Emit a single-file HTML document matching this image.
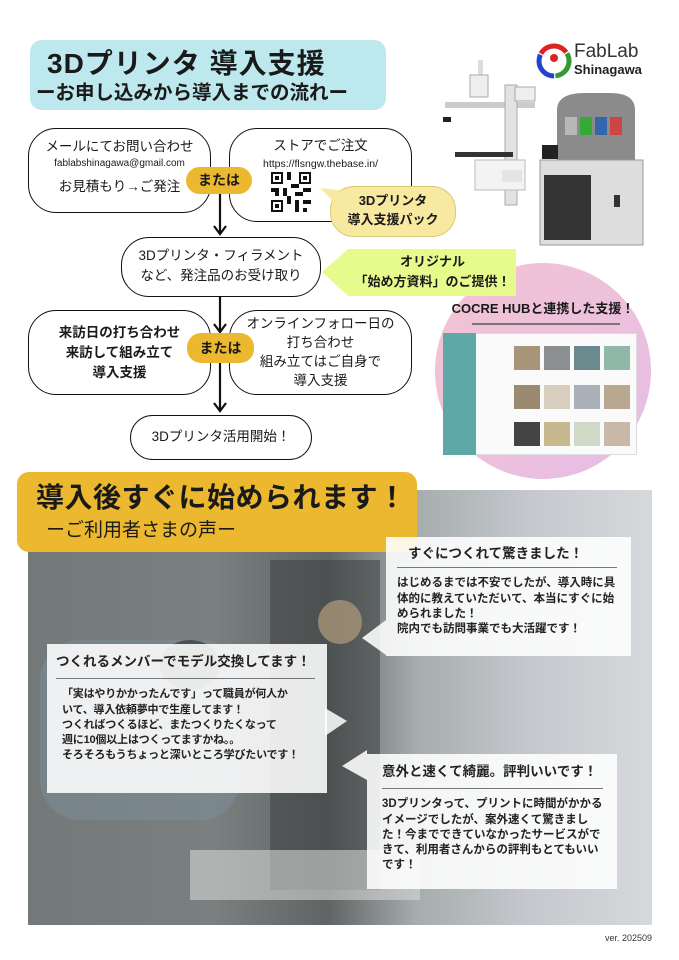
<!DOCTYPE html>
<html><head><meta charset="utf-8"><style>
*{margin:0;padding:0;box-sizing:border-box}
body{width:679px;height:960px;background:#fff;position:relative;overflow:hidden;font-family:"Liberation Sans","Noto Sans CJK JP",sans-serif;color:#1a1a1a}
.a{position:absolute}
.box{position:absolute;border:1.6px solid #111;border-radius:28px;background:#fff;text-align:center;font-size:13.5px;line-height:20px}
.pill{position:absolute;background:#ecb830;border-radius:14px;text-align:center;font-weight:bold;font-size:14px}
.call{position:absolute;background:rgba(255,255,255,0.88);font-size:11.5px;line-height:15.3px;font-weight:bold;color:#222}
.call h4{font-size:13.5px;font-weight:bold;border-bottom:1.5px solid #777;padding-bottom:6px;margin-bottom:8px}
</style></head><body>

<div class="a" style="left:30px;top:40px;width:356px;height:70px;background:#bde9ee;border-radius:12px"></div>
<div class="a" style="left:47px;top:47px;font-size:28px;font-weight:bold;letter-spacing:1px;line-height:34px">3Dプリンタ 導入支援</div>
<div class="a" style="left:36px;top:80px;font-size:19.5px;font-weight:bold;line-height:26px">ーお申し込みから導入までの流れー</div>

<svg class="a" style="left:0;top:0" width="679" height="480">
<g stroke="#111" stroke-width="2.2" fill="none">
<line x1="220" y1="194" x2="220" y2="234"/><polyline points="214,226 220,234 226,226"/>
<line x1="220" y1="297" x2="220" y2="332"/><polyline points="214,324 220,332 226,324"/>
<line x1="220" y1="363" x2="220" y2="411"/><polyline points="214,403 220,411 226,403"/>
</g>
<defs><linearGradient id="pk" x1="0" y1="0" x2="1" y2="1"><stop offset="0" stop-color="#f4c4d2"/><stop offset="1" stop-color="#e6bde6"/></linearGradient></defs>
<circle cx="543" cy="371" r="108" fill="url(#pk)"/>
<polygon points="322,272 348,249 516,249 516,296 348,296" fill="#e6fb8c"/>
</svg>

<div class="box" style="left:28px;top:128px;width:183px;height:85px;padding-top:8px">メールにてお問い合わせ<div style="font-size:10px;line-height:14px">fablabshinagawa@gmail.com</div><div style="margin-top:6px">お見積もり→ご発注</div></div>
<div class="box" style="left:229px;top:128px;width:183px;height:94px;padding-top:7px">ストアでご注文<div style="font-size:10.5px;line-height:16px">https://flsngw.thebase.in/</div></div>
<svg class="a" style="left:271px;top:172px" width="40" height="40" viewBox="0 0 10 10">
<rect width="10" height="10" fill="#fff"/>
<g fill="#111"><rect x="0" y="0" width="3" height="3"/><rect x="7" y="0" width="3" height="3"/><rect x="0" y="7" width="3" height="3"/>
<rect x="4" y="0" width="1" height="2"/><rect x="5" y="3" width="2" height="1"/><rect x="3" y="4" width="1" height="2"/><rect x="6" y="5" width="2" height="1"/><rect x="8" y="4" width="2" height="1"/><rect x="4" y="6" width="1" height="2"/><rect x="6" y="7" width="1" height="3"/><rect x="8" y="7" width="2" height="1"/><rect x="8" y="9" width="1" height="1"/><rect x="0" y="4" width="2" height="1"/><rect x="1" y="5" width="1" height="1"/></g>
<g fill="#fff"><rect x=".5" y=".5" width="2" height="2"/><rect x="7.5" y=".5" width="2" height="2"/><rect x=".5" y="7.5" width="2" height="2"/></g>
<g fill="#111"><rect x="1" y="1" width="1" height="1"/><rect x="8" y="1" width="1" height="1"/><rect x="1" y="8" width="1" height="1"/></g>
</svg>
<div class="a" style="left:330px;top:186px;width:126px;height:51px;background:#f8e9a0;border:1px solid #d8c878;border-radius:24px"></div>
<svg class="a" style="left:318px;top:180px" width="30" height="30"><polygon points="2,8 22,10 18,24" fill="#f8e9a0"/></svg>
<div class="a" style="left:330px;top:191px;width:126px;text-align:center;font-size:13px;font-weight:bold;line-height:19px">3Dプリンタ<br>導入支援パック</div>

<div class="pill" style="left:186px;top:167px;width:66px;height:27px;line-height:27px">または</div>

<div class="box" style="left:121px;top:237px;width:200px;height:60px;padding-top:8px;border-radius:28px">3Dプリンタ・フィラメント<br>など、発注品のお受け取り</div>
<div class="a" style="left:350px;top:252px;width:165px;text-align:center;font-size:13px;font-weight:bold;line-height:20px">オリジナル<br>「始め方資料」のご提供！</div>

<div class="box" style="left:28px;top:310px;width:183px;height:85px;padding-top:12px;font-weight:bold">来訪日の打ち合わせ<br>来訪して組み立て<br>導入支援</div>
<div class="box" style="left:229px;top:310px;width:183px;height:85px;padding-top:3px;line-height:19px">オンラインフォロー日の<br>打ち合わせ<br>組み立てはご自身で<br>導入支援</div>
<div class="pill" style="left:187px;top:333px;width:67px;height:30px;line-height:30px">または</div>

<div class="box" style="left:130px;top:415px;width:182px;height:45px;line-height:42px;border-radius:24px">3Dプリンタ活用開始！</div>

<svg class="a" style="left:536px;top:43px" width="36" height="36" viewBox="0 0 36 36">
<circle cx="18" cy="18" r="15" fill="none" stroke="#d22" stroke-width="5" stroke-dasharray="30 64" transform="rotate(-150 18 18)"/>
<circle cx="18" cy="18" r="15" fill="none" stroke="#393" stroke-width="5" stroke-dasharray="30 64" transform="rotate(-30 18 18)"/>
<circle cx="18" cy="18" r="15" fill="none" stroke="#24c" stroke-width="5" stroke-dasharray="30 64" transform="rotate(90 18 18)"/>
<circle cx="18" cy="15" r="4" fill="#d22"/></svg>
<div class="a" style="left:574px;top:42px;font-size:19px;color:#333;line-height:20px">FabLab</div>
<div class="a" style="left:574px;top:62px;font-size:13px;font-weight:bold;color:#222;line-height:16px">Shinagawa</div>

<svg class="a" style="left:440px;top:55px" width="210" height="195">
<rect x="38" y="5" width="5" height="20" fill="#ddd"/>
<rect x="30" y="20" width="18" height="22" fill="#eee" stroke="#aaa"/>
<rect x="5" y="47" width="90" height="6" fill="#ccc"/>
<rect x="65" y="30" width="12" height="120" fill="#e2e2e2" stroke="#aaa"/>
<rect x="75" y="32" width="20" height="14" fill="#eee" stroke="#aaa"/>
<rect x="3" y="62" width="8" height="5" fill="#222"/>
<rect x="15" y="97" width="58" height="5" fill="#333"/>
<rect x="35" y="105" width="50" height="30" fill="#f3f3f3" stroke="#bbb"/>
<rect x="62" y="115" width="20" height="12" fill="#e5e5e5"/>
<path d="M117 55 Q117 38 145 38 L170 38 Q195 38 195 55 L195 108 L117 108Z" fill="#777" opacity=".85"/>
<rect x="125" y="62" width="12" height="18" fill="#b8b8b8"/><rect x="140" y="62" width="12" height="18" fill="#3a3"/><rect x="155" y="62" width="12" height="18" fill="#36a"/><rect x="170" y="62" width="12" height="18" fill="#c44"/>
<rect x="100" y="105" width="103" height="85" fill="#ddd" stroke="#999"/>
<rect x="104" y="120" width="47" height="65" fill="#333"/>
<rect x="102" y="90" width="16" height="14" fill="#222"/>
<rect x="174" y="140" width="6" height="12" fill="#333"/>
</svg>

<div class="a" style="left:440px;top:298px;width:206px;text-align:center;font-size:13px;font-weight:bold">COCRE HUBと連携した支援！</div>
<div class="a" style="left:472px;top:323px;width:148px;height:1.5px;background:#777"></div>
<div class="a" style="left:443px;top:333px;width:194px;height:122px;background:#fafafa;border:1px solid #ddd"></div>
<div class="a" style="left:443px;top:333px;width:33px;height:122px;background:#5fa8a8"></div>
<svg class="a" style="left:514px;top:340px" width="122" height="115">
<g fill="#a89478"><rect x="0" y="6" width="26" height="24"/><rect x="30" y="6" width="26" height="24" fill="#8c8e90"/><rect x="60" y="6" width="26" height="24" fill="#6b8a8e"/><rect x="90" y="6" width="26" height="24" fill="#8fb8a8"/>
<rect x="0" y="45" width="26" height="24" fill="#9a8a70"/><rect x="30" y="45" width="26" height="24" fill="#d8cfc0"/><rect x="60" y="45" width="26" height="24" fill="#aab0b8"/><rect x="90" y="45" width="26" height="24" fill="#b8a890"/>
<rect x="0" y="82" width="26" height="24" fill="#444"/><rect x="30" y="82" width="26" height="24" fill="#c8b890"/><rect x="60" y="82" width="26" height="24" fill="#d0d8c8"/><rect x="90" y="82" width="26" height="24" fill="#c8b8a8"/></g>
</svg>

<!-- bottom photo -->
<div class="a" style="left:28px;top:490px;width:624px;height:435px;background:linear-gradient(90deg,#737979 0%,#7a8080 30%,#5f6464 48%,#a6acae 62%,#c4c8cc 80%,#d6d9dc 100%)"></div>
<div class="a" style="left:270px;top:560px;width:110px;height:330px;background:#3d4040;opacity:.55"></div>
<div class="a" style="left:40px;top:640px;width:200px;height:180px;background:#7e94a2;opacity:.4;border-radius:40px"></div>
<div class="a" style="left:160px;top:640px;width:60px;height:50px;background:#3a3a3a;opacity:.7;border-radius:50%"></div>
<div class="a" style="left:190px;top:850px;width:230px;height:50px;background:#d6d6d6;opacity:.6"></div>
<div class="a" style="left:318px;top:600px;width:44px;height:44px;background:#a89478;opacity:.8;border-radius:50%"></div>

<div class="a" style="left:17px;top:472px;width:400px;height:80px;background:#ecb830;border-radius:12px"></div>
<div class="a" style="left:36px;top:480px;font-size:28px;font-weight:bold;line-height:36px;letter-spacing:.5px">導入後すぐに始められます！</div>
<div class="a" style="left:46px;top:518px;font-size:19px;line-height:26px">ーご利用者さまの声ー</div>

<svg class="a" style="left:0;top:480px" width="679" height="420">
<polygon points="386,140 362,158 386,175" fill="rgba(255,255,255,.88)"/>
<polygon points="325,228 347,241 325,256" fill="rgba(255,255,255,.85)"/>
<polygon points="367,270 342,286 367,300" fill="rgba(255,255,255,.88)"/>
</svg>
<div class="call" style="left:386px;top:537px;width:245px;height:119px;padding:9px 14px 0 11px"><h4 style="padding-left:11px">すぐにつくれて驚きました！</h4>はじめるまでは不安でしたが、導入時に具体的に教えていただいて、本当にすぐに始められました！<br>院内でも訪問事業でも大活躍です！</div>
<div class="call" style="left:47px;top:644px;width:280px;height:149px;padding:10px 6px 0 9px;font-size:11px;letter-spacing:-.2px"><h4 style="padding-bottom:9px;letter-spacing:0;margin-right:6px">つくれるメンバーでモデル交換してます！</h4><div style="padding-left:6px;white-space:nowrap">「実はやりかかったんです」って職員が何人か<br>いて、導入依頼夢中で生産してます！<br>つくればつくるほど、またつくりたくなって<br>週に10個以上はつくってますかね。。<br>そろそろもうちょっと深いところ学びたいです！</div></div>
<div class="call" style="left:367px;top:754px;width:250px;height:135px;padding:10px 14px 0 15px"><h4 style="padding-bottom:9px">意外と速くて綺麗。評判いいです！</h4>3Dプリンタって、プリントに時間がかかるイメージでしたが、案外速くて驚きました！今までできていなかったサービスができて、利用者さんからの評判もとてもいいです！</div>

<div class="a" style="left:605px;top:933px;font-size:9px;color:#333">ver. 202509</div>
</body></html>
